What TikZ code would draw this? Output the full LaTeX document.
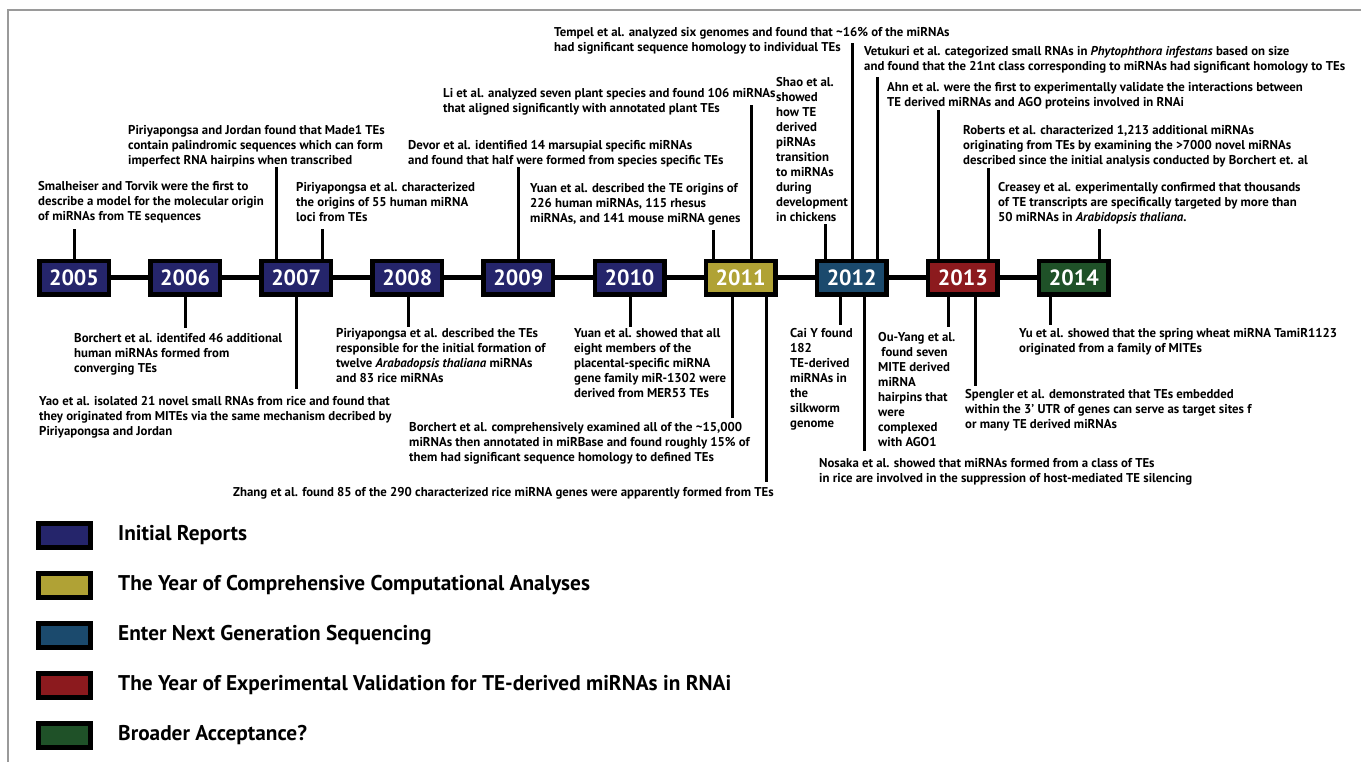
\documentclass[tikz,border=0pt]{standalone}
\usepackage{fontspec}
\setmainfont{PT Sans}
\usetikzlibrary{positioning}

\definecolor{initblue}{HTML}{25256B}
\definecolor{compgold}{HTML}{B0A235}
\definecolor{ngsblue}{HTML}{1B4A6D}
\definecolor{validred}{HTML}{8C1A1E}
\definecolor{broadgreen}{HTML}{1F5128}
\definecolor{framegray}{HTML}{9A9A9A}

\tikzset{
  yearbox/.style={draw=black, line width=4.5pt, minimum width=69.5pt, minimum height=33.5pt,
    inner sep=0pt, text=white, font=\fontsize{22}{22}\selectfont\bfseries},
  timeline/.style={line width=5pt},
  stem/.style={line width=3pt},
  note/.style={anchor=north west, inner sep=0pt, align=left,
    font=\fontsize{12.8}{15}\selectfont\bfseries},
  keybox/.style={draw=black, line width=5pt, minimum width=52pt, minimum height=24pt, inner sep=0pt},
  keytext/.style={anchor=west, inner sep=0pt, font=\fontsize{21.3}{21.3}\selectfont\bfseries}
}

\begin{document}
\begin{tikzpicture}[x=1pt, y=-1pt]
    \useasboundingbox (0,0) rectangle (1361,762);
    % frame of the figure, only top and left edge show
    \draw[framegray, line width=1.5pt] (8,762) -- (8,10) -- (1361,10);

    % year boxes along the time line
    \foreach \yr/\col [count=\i from 0] in {2005/initblue, 2006/initblue, 2007/initblue, 2008/initblue,
        2009/initblue, 2010/initblue, 2011/compgold, 2012/ngsblue, 2013/validred, 2014/broadgreen}
        \node[yearbox, fill=\col] (b\yr) at (74+111.1*\i, 278) {\yr};
    % the line between the boxes
    \foreach \a/\b in {2005/2006, 2006/2007, 2007/2008, 2008/2009, 2009/2010,
        2010/2011, 2011/2012, 2012/2013, 2013/2014}
        \draw[timeline] (b\a.east) -- (b\b.west);

    % notes above the time line
    \node[note] (sma) at (38,181) {Smalheiser and Torvik were the first to\\describe a model for the molecular origin\\of miRNAs from TE sequences};
    \node[note] (pj) at (128,125) {Piriyapongsa and Jordan found that Made1 TEs\\contain palindromic sequences which can form\\imperfect RNA hairpins when transcribed};
    \node[note] (pir55) at (296,182) {Piriyapongsa et al. characterized\\the origins of 55 human miRNA\\loci from TEs};
    \node[note] (devor) at (408,140) {Devor et al. identified 14 marsupial specific miRNAs\\and found that half were formed from species specific TEs};
    \node[note] (li) at (443,88) {Li et al. analyzed seven plant species and found 106 miRNAs\\that aligned significantly with annotated plant TEs};
    \node[note] (yuan09) at (530,183) {Yuan et al. described the TE origins of\\226 human miRNAs, 115 rhesus\\miRNAs, and 141 mouse miRNA genes};
    \node[note] (tempel) at (554,27) {Tempel et al. analyzed six genomes and found that \textasciitilde16\% of the miRNAs\\had significant sequence homology to individual TEs};
    \node[note] (shao) at (776,77) {Shao et al.\\showed\\how TE\\derived\\piRNAs\\transition\\to miRNAs\\during\\development\\in chickens};
    \node[note] (vetukuri) at (864,46) {Vetukuri et al. categorized small RNAs in \textit{Phytophthora infestans} based on size\\and found that the 21nt class corresponding to miRNAs had significant homology to TEs};
    \node[note] (ahn) at (887,82) {Ahn et al. were the first to experimentally validate the interactions between\\TE derived miRNAs and AGO proteins involved in RNAi};
    \node[note] (roberts) at (963,125) {Roberts et al. characterized 1,213 additional miRNAs\\originating from TEs by examining the >7000 novel miRNAs\\described since the initial analysis conducted by Borchert et. al};
    \node[note] (creasey) at (998,182) {Creasey et al. experimentally confirmed that thousands\\of TE transcripts are specifically targeted by more than\\50 miRNAs in \textit{Arabidopsis thaliana}.};

    % notes below the time line
    \node[note] (borch06) at (74,333) {Borchert et al. identifed 46 additional\\human miRNAs formed from\\converging TEs};
    \node[note] (yao) at (39,396) {Yao et al. isolated 21 novel small RNAs from rice and found that\\they originated from MITEs via the same mechanism decribed by\\Piriyapongsa and Jordan};
    \node[note] (pir08) at (336,328) {Piriyapongsa et al. described the TEs\\responsible for the initial formation of\\twelve \textit{Arabadopsis thaliana} miRNAs\\and 83 rice miRNAs};
    \node[note] (yuan10) at (574,328) {Yuan et al. showed that all\\eight members of the\\placental-specific miRNA\\gene family miR-1302 were\\derived from MER53 TEs};
    \node[note] (borch11) at (409,422) {Borchert et al. comprehensively examined all of the \textasciitilde15,000\\miRNAs then annotated in miRBase and found roughly 15\% of\\them had significant sequence homology to defined TEs};
    \node[note] (zhang) at (233,487) {Zhang et al. found 85 of the 290 characterized rice miRNA genes were apparently formed from TEs};
    \node[note] (cai) at (790,328) {Cai Y found\\182\\TE-derived\\miRNAs in\\the\\silkworm\\genome};
    \node[note] (nosaka) at (819,458) {Nosaka et al. showed that miRNAs formed from a class of TEs\\in rice are involved in the suppression of host-mediated TE silencing};
    \node[note] (ouyang) at (878,332) {Ou-Yang et al.\\\ found seven\\MITE derived\\miRNA\\hairpins that\\were\\complexed\\with AGO1};
    \node[note] (spengler) at (965,389) {Spengler et al. demonstrated that TEs embedded\\within the 3’ UTR of genes can serve as target sites f\\or many TE derived miRNAs};
    \node[note] (yu) at (1019,328) {Yu et al. showed that the spring wheat miRNA TamiR1123\\originated from a family of MITEs};

    % free ends of the stems
    \coordinate (s-sma) at (74,229);
    \coordinate (s-pj) at (276,167);
    \coordinate (s-pir55) at (322,229);
    \coordinate (s-devor) at (518,167);
    \coordinate (s-yuan09) at (713,230);
    \coordinate (s-li) at (751,105);
    \coordinate (s-shao) at (825,224);
    \coordinate (s-tempel) at (852,43);
    \coordinate (s-vetukuri) at (877,77);
    \coordinate (s-ahn) at (938,110);
    \coordinate (s-roberts) at (988,168);
    \coordinate (s-creasey) at (1099,229);
    \coordinate (s-borch06) at (185,328);
    \coordinate (s-yao) at (296,389);
    \coordinate (s-pir08) at (408,327);
    \coordinate (s-yuan10) at (630,327);
    \coordinate (s-borch11) at (732,418);
    \coordinate (s-zhang) at (766,482);
    \coordinate (s-cai) at (840,325);
    \coordinate (s-nosaka) at (864,451);
    \coordinate (s-ouyang) at (948,327);
    \coordinate (s-spengler) at (975,386);
    \coordinate (s-yu) at (1050,325);

    % stems from the boxes up to the notes
    \foreach \s/\b in {sma/2005, pj/2007, pir55/2007, devor/2009, yuan09/2011, li/2011,
        shao/2012, tempel/2012, vetukuri/2012, ahn/2013, roberts/2013, creasey/2014}
        \draw[stem] (s-\s |- b\b.north) -- (s-\s);
    % stems from the boxes down to the notes
    \foreach \s/\b in {borch06/2006, yao/2007, pir08/2008, yuan10/2010, borch11/2011, zhang/2011,
        cai/2012, nosaka/2012, ouyang/2013, spengler/2013, yu/2014}
        \draw[stem] (s-\s |- b\b.south) -- (s-\s);

    % legend
    \foreach \col/\txt [count=\i from 0] in {initblue/Initial Reports,
        compgold/The Year of Comprehensive Computational Analyses,
        ngsblue/Enter Next Generation Sequencing,
        validred/The Year of Experimental Validation for TE-derived miRNAs in RNAi,
        broadgreen/Broader Acceptance?}
    {
        \node[keybox, fill=\col] (k\i) at (64.5, 535.5+50*\i) {};
        \node[keytext, right=25pt of k\i] (kt\i) {\txt};
    }
\end{tikzpicture}
\end{document}
